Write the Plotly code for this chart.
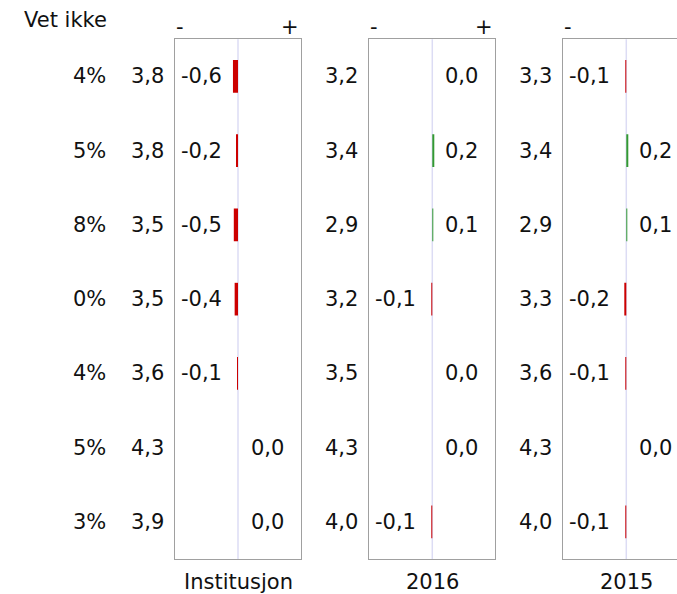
import plotly.graph_objects as go

rows = [0, 1, 2, 3, 4, 5, 6]
vet_ikke = ["4%", "5%", "8%", "0%", "4%", "5%", "3%"]
inst_mean = [3.8, 3.8, 3.5, 3.5, 3.6, 4.3, 3.9]
inst_diff = [-0.6, -0.2, -0.5, -0.4, -0.1, 0.0, 0.0]
y2016_mean = [3.2, 3.4, 2.9, 3.2, 3.5, 4.3, 4.0]
y2016_diff = [0.0, 0.2, 0.1, -0.1, 0.0, 0.0, -0.1]
y2015_mean = [3.3, 3.4, 2.9, 3.3, 3.6, 4.3, 4.0]
y2015_diff = [-0.1, 0.2, 0.1, -0.2, -0.1, 0.0, -0.1]
panel_titles = ["Institusjon", "2016", "2015"]

W, H = 677, 594
FONT = "DejaVu Sans"
FS = 21
RED = "#CC0000"
GREEN = "#339933"
BORDER = "#A0A0A0"
CENTER = "#DCDCF4"
HALF = 7.5
BOXW = 126.0

panels = [
    (inst_mean, inst_diff, 175.0),
    (y2016_mean, y2016_diff, 369.3),
    (y2015_mean, y2015_diff, 563.3),
]

top_px, bot_px = 39.3, 559.0
ydom = [(H - bot_px) / H, (H - top_px) / H]

def fmt(v):
    return f"{v:.1f}".replace(".", ",")

fig = go.Figure()
layout = dict(
    width=W, height=H, margin=dict(l=0, r=0, t=0, b=0),
    paper_bgcolor="white", plot_bgcolor="white", showlegend=False,
    font=dict(family=FONT, size=FS, color="#111111"),
)
annotations = []
shapes = []

for i, (means, diffs, left) in enumerate(panels):
    n = "" if i == 0 else str(i + 1)
    xa, ya = "x" + n, "y" + n
    right = min(left + BOXW, W)
    xmax = -HALF + 2 * HALF * (right - left) / BOXW
    fig.add_trace(go.Bar(
        x=diffs, y=rows, orientation="h", width=0.44,
        marker=dict(color=[RED if d < 0 else GREEN for d in diffs], line=dict(width=0)),
        xaxis=xa, yaxis=ya, hoverinfo="skip",
    ))
    layout["xaxis" + n] = dict(
        domain=[left / W, right / W], range=[-HALF, xmax], showgrid=False,
        zeroline=False, showticklabels=False, ticks="", showline=True,
        mirror=True, linecolor=BORDER, linewidth=1.2, anchor=ya, fixedrange=True,
    )
    layout["yaxis" + n] = dict(
        domain=ydom, range=[6.5, -0.5], showgrid=False, zeroline=False,
        showticklabels=False, ticks="", showline=True,
        mirror=(i < 2), linecolor=BORDER, linewidth=1.2, anchor=xa, fixedrange=True,
    )
    shapes.append(dict(type="line", xref=xa, yref=ya + " domain", x0=0, x1=0, y0=0, y1=1,
                       line=dict(color=CENTER, width=1.5), layer="below"))
    for r, m, d in zip(rows, means, diffs):
        annotations.append(dict(xref=xa, yref=ya, x=-HALF, y=r, text=fmt(m),
                                xanchor="right", yanchor="middle", xshift=-9, showarrow=False))
        if d < 0:
            annotations.append(dict(xref=xa, yref=ya, x=-HALF, y=r, text=fmt(d),
                                    xanchor="left", yanchor="middle", xshift=4, showarrow=False))
        else:
            annotations.append(dict(xref=xa, yref=ya, x=0, y=r, text=fmt(d),
                                    xanchor="left", yanchor="middle", xshift=11, showarrow=False))
    annotations.append(dict(xref=xa, yref="paper", x=-HALF, y=(H - 27) / H, text="-",
                            xanchor="left", yanchor="middle", showarrow=False, xshift=-1))
    annotations.append(dict(xref=xa, yref="paper", x=HALF, y=(H - 27) / H, text="+",
                            xanchor="right", yanchor="middle", showarrow=False, xshift=0))
    annotations.append(dict(xref=xa, yref="paper", x=0, y=(H - 582) / H, text=panel_titles[i],
                            xanchor="center", yanchor="middle", showarrow=False))

for r, p in zip(rows, vet_ikke):
    annotations.append(dict(xref="paper", yref="y", x=108 / W, y=r, text=p,
                            xanchor="right", yanchor="middle", showarrow=False))
annotations.append(dict(xref="paper", yref="paper", x=109 / W, y=(H - 20) / H, text="Vet ikke",
                        xanchor="right", yanchor="middle", showarrow=False))

layout["annotations"] = annotations
layout["shapes"] = shapes
fig.update_layout(**layout)
fig.write_html("out.html", config={"displayModeBar": False},
               post_script="document.body.style.margin='0px';")
